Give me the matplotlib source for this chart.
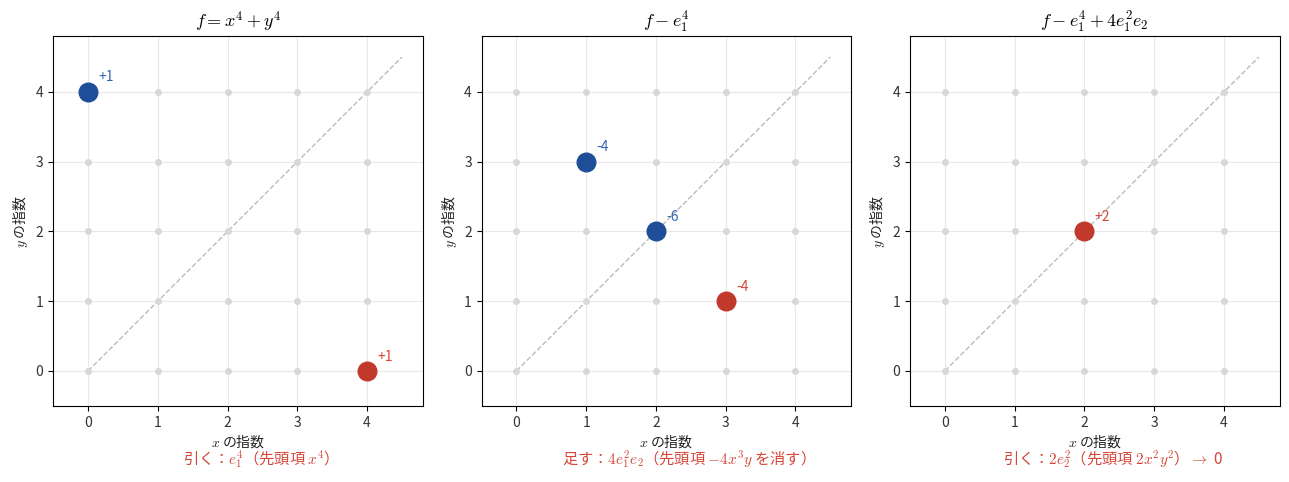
import numpy as np
import matplotlib.pyplot as plt

plt.rcParams['font.family'] = ['Noto Sans CJK JP', 'DejaVu Sans']
plt.rcParams['mathtext.fontset'] = 'cm'
plt.rcParams['axes.unicode_minus'] = False

BLUE = "#1f4e99"
RED = "#c0392b"
BLUE_TXT = "#3566b2"
RED_TXT = "#d4463a"

titles = [r"$f = x^4 + y^4$", r"$f - e_1^4$", r"$f - e_1^4 + 4e_1^2e_2$"]
notes = [
    r"引く：$e_1^4$（先頭項 $x^4$）",
    r"足す：$4e_1^2e_2$（先頭項 $-4x^3y$ を消す）",
    r"引く：$2e_2^2$（先頭項 $2x^2y^2$）$\rightarrow$ 0",
]

# terms per panel: x exponent, y exponent, coefficient
term_x = [[0, 4], [1, 2, 3], [2]]
term_y = [[4, 0], [3, 2, 1], [2]]
term_c = [[1, 1], [-4, -6, -4], [2]]
term_col = [[BLUE, RED], [BLUE, BLUE, RED], [RED]]

grid_vals = np.arange(5)

fig, axes = plt.subplots(1, 3, figsize=(12.89, 4.82), dpi=100)
fig.subplots_adjust(left=0.041, right=0.993, bottom=0.158, top=0.925, wspace=0.157)

for k, ax in enumerate(axes):
    gx, gy = np.meshgrid(grid_vals, grid_vals)
    ax.scatter(gx.ravel(), gy.ravel(), s=16, color="#d8d8d8", zorder=2)
    ax.plot([0, 4.5], [0, 4.5], "--", color="#bbbbbb", lw=1, zorder=1)
    for x, y, c, col in zip(term_x[k], term_y[k], term_c[k], term_col[k]):
        ax.scatter([x], [y], s=180, color=col, zorder=3)
        lab = f"+{c}" if c > 0 else f"{c}"
        tcol = BLUE_TXT if col == BLUE else RED_TXT
        ax.text(x + 0.15, y + 0.15, lab, color=tcol, fontsize=10, zorder=4)
    ax.set_xlim(-0.5, 4.8)
    ax.set_ylim(-0.5, 4.8)
    ax.set_aspect("equal")
    ax.set_xticks(grid_vals)
    ax.set_yticks(grid_vals)
    ax.tick_params(labelcolor="#333333")
    ax.grid(True, color="#e8e8e8", lw=0.8, zorder=0)
    ax.set_axisbelow(True)
    ax.set_title(titles[k], fontsize=13)
    ax.set_xlabel(r"$x$ の指数", fontsize=10, labelpad=2, color="#222222")
    ax.set_ylabel(r"$y$ の指数", fontsize=10, color="#222222")
    ax.text(0.55, -0.143, notes[k], transform=ax.transAxes, ha="center",
            va="center", color=RED_TXT, fontsize=11)

plt.savefig("out.png", dpi=100)
